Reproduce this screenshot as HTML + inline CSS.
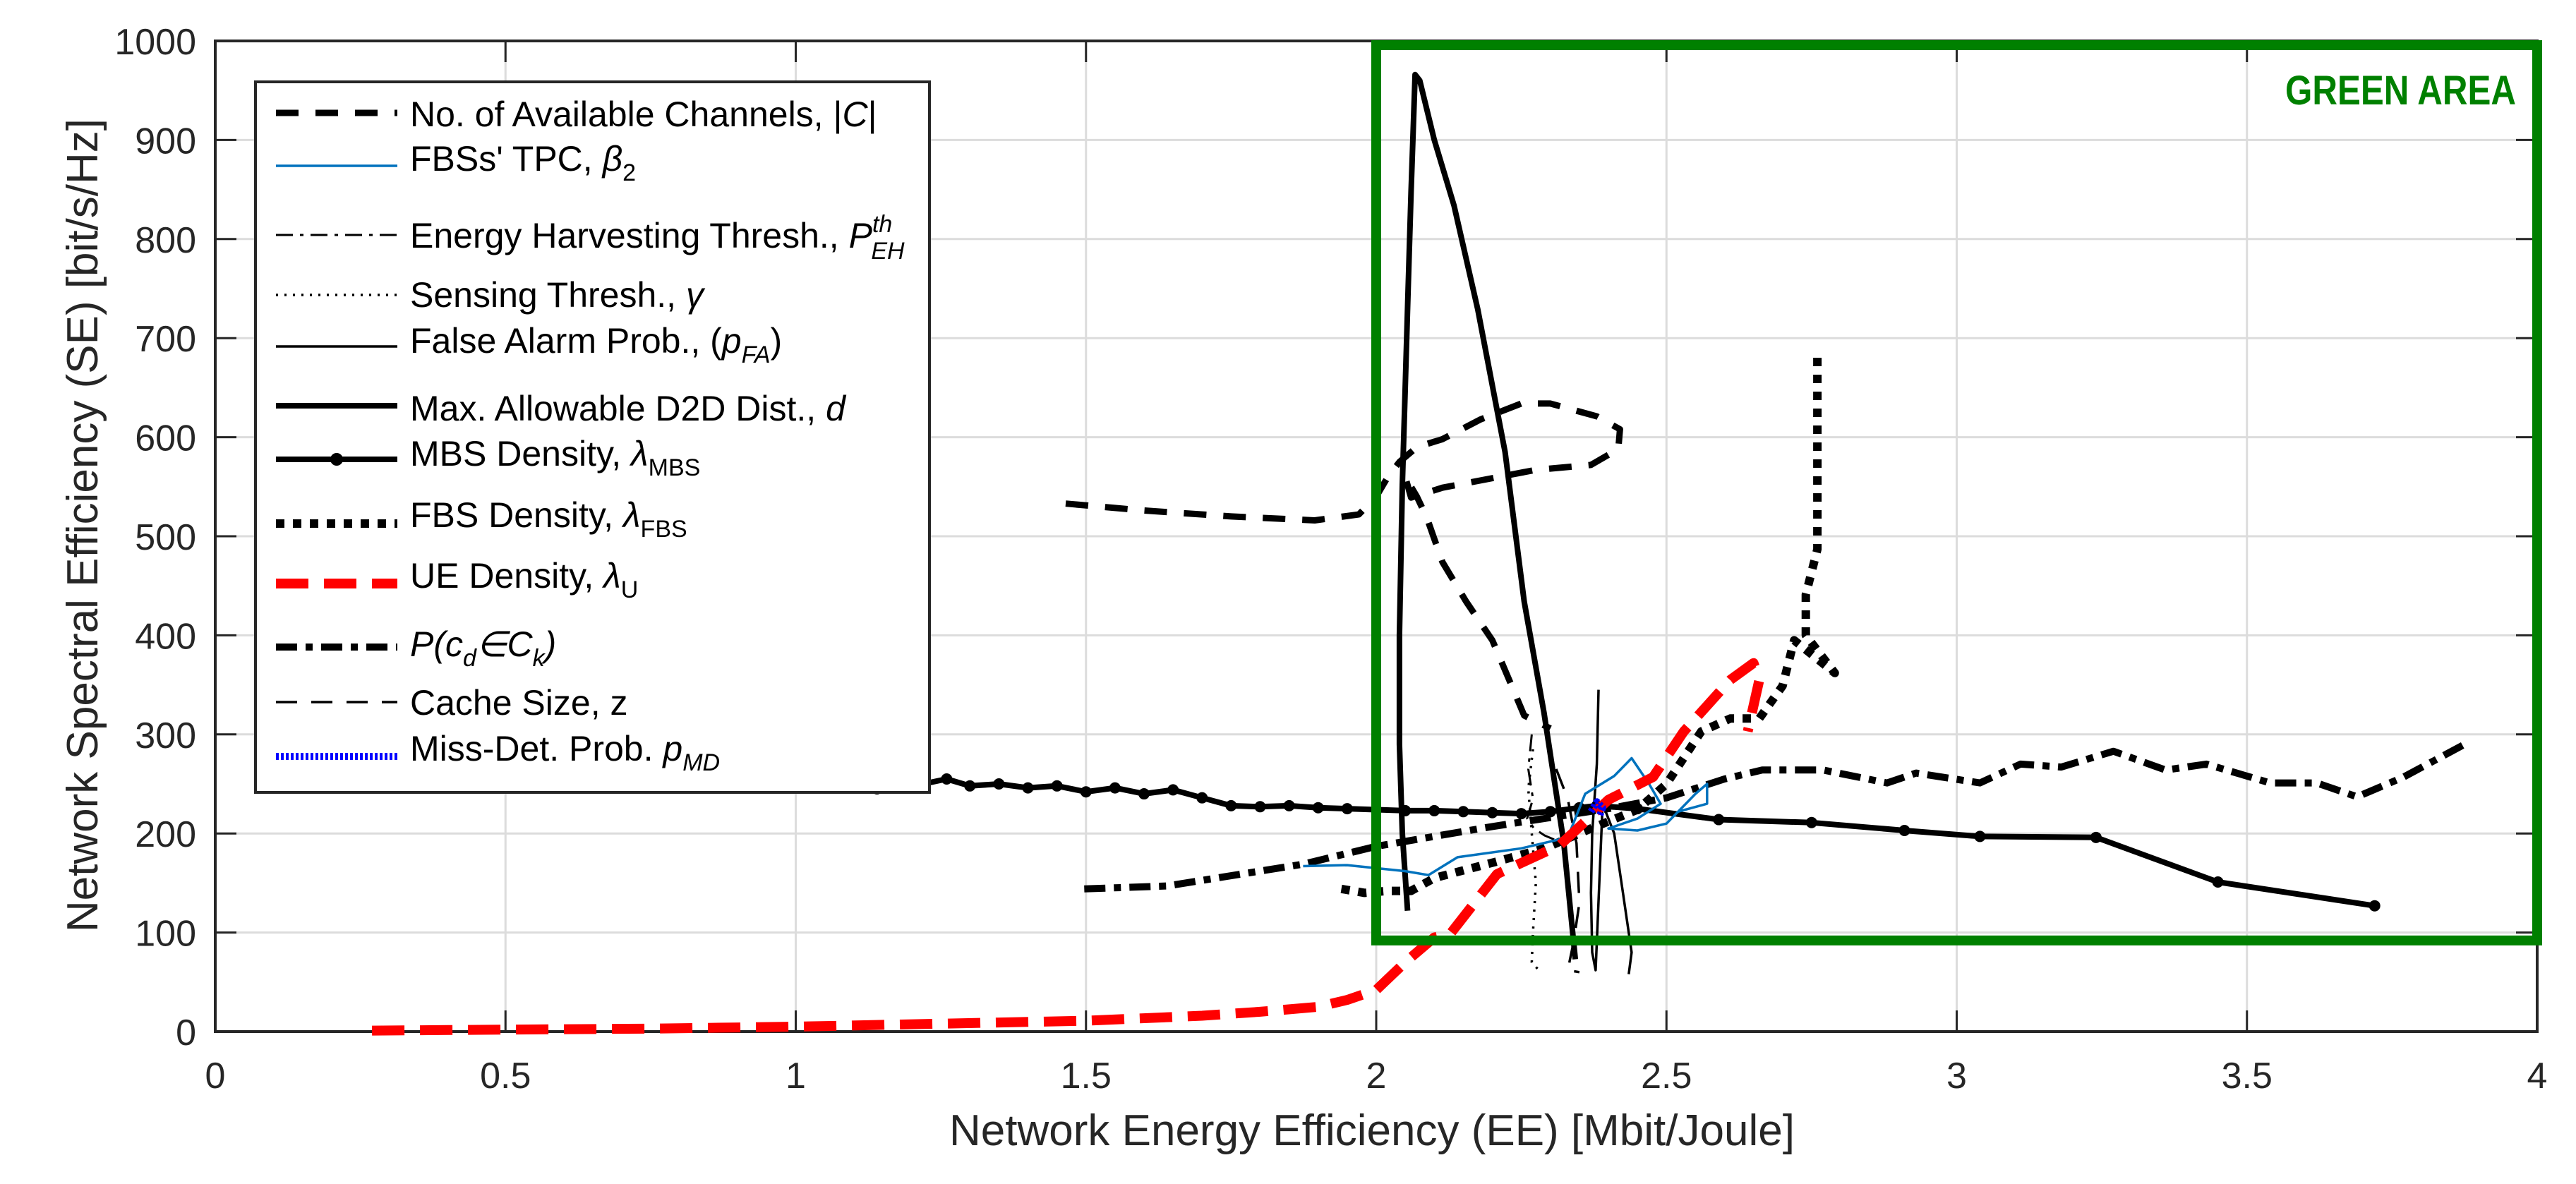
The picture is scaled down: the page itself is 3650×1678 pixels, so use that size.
<!DOCTYPE html>
<html><head><meta charset="utf-8"><style>
html,body{margin:0;padding:0;background:#fff;}
svg{display:block;font-family:"Liberation Sans",sans-serif;}
</style></head><body>
<svg id="chart" width="3650" height="1678" viewBox="0 0 3650 1678" xmlns="http://www.w3.org/2000/svg">
<rect x="0" y="0" width="3650" height="1678" fill="#fff"/>
<g id="grid"></g>
<g id="axes"></g>
<g id="series"></g>
<g id="green"></g>
<text x="138" y="168" font-size="62" fill="#262626" text-anchor="end" transform="rotate(-90 138 168)">Network Spectral Efficiency (SE) [bit/s/Hz]</text>
<text x="1345" y="1623" font-size="62" fill="#262626">Network Energy Efficiency (EE) [Mbit/Joule]</text>
<g id="legend">
<rect x="362" y="116" width="955" height="1007" fill="#fff" stroke="#262626" stroke-width="4"/>
<g id="legend-lines"></g>
<g font-size="50" fill="#000">
<text x="581" y="179">No. of Available Channels, |<tspan font-style="italic">C</tspan>|</text>
<text x="581" y="242">FBSs' TPC, <tspan font-style="italic">β</tspan><tspan font-size="34" dy="14">2</tspan></text>
<text x="581" y="351">Energy Harvesting Thresh., <tspan font-style="italic">P</tspan><tspan font-size="34" font-style="italic" dy="-22">th</tspan><tspan font-size="34" font-style="italic" dx="-30" dy="38">EH</tspan></text>
<text x="581" y="435">Sensing Thresh., <tspan font-style="italic">γ</tspan></text>
<text x="581" y="500">False Alarm Prob., (<tspan font-style="italic">p</tspan><tspan font-size="34" font-style="italic" dy="14">FA</tspan><tspan dy="-14">)</tspan></text>
<text x="581" y="596">Max. Allowable D2D Dist., <tspan font-style="italic">d</tspan></text>
<text x="581" y="660">MBS Density, <tspan font-style="italic">λ</tspan><tspan font-size="34" dy="14">MBS</tspan></text>
<text x="581" y="747">FBS Density, <tspan font-style="italic">λ</tspan><tspan font-size="34" dy="14">FBS</tspan></text>
<text x="581" y="833">UE Density, <tspan font-style="italic">λ</tspan><tspan font-size="34" dy="14">U</tspan></text>
<text x="581" y="930" font-style="italic">P(c<tspan font-size="34" dy="14">d</tspan><tspan dy="-14">∈C</tspan><tspan font-size="34" dy="14">k</tspan><tspan dy="-14">)</tspan></text>
<text x="581" y="1013">Cache Size, z</text>
<text x="581" y="1078">Miss-Det. Prob. <tspan font-style="italic">p</tspan><tspan font-size="34" font-style="italic" dy="14">MD</tspan></text>
</g>
</g>
<text x="3565" y="148" font-size="58" font-weight="bold" fill="#008000" text-anchor="end" textLength="327" lengthAdjust="spacingAndGlyphs">GREEN AREA</text>
</svg>
<script>
// Axis tick data
const xTicks = [0, 0.5, 1, 1.5, 2, 2.5, 3, 3.5, 4];
const xTickLabels = ["0", "0.5", "1", "1.5", "2", "2.5", "3", "3.5", "4"];
const yTicks = [0, 100, 200, 300, 400, 500, 600, 700, 800, 900, 1000];
const yTickLabels = ["0", "100", "200", "300", "400", "500", "600", "700", "800", "900", "1000"];

// Series data (EE, SE)
const chanX = [1.465,1.6,1.75,1.894,1.97,2.0,2.02,2.04,2.07,2.114,2.18,2.25,2.3,2.38,2.42,2.417,2.37,2.275,2.114,2.06,2.05,2.07,2.087,2.114,2.155,2.2,2.229,2.255,2.3];
const chanY = [533,526,520,516,522,540,560,575,590,598,618,634,634,621,608,588,572,567,549,539,560,540,519,474,434,395,355,319,306];
const tpcX = [1.874,1.95,2.05,2.09,2.14,2.25,2.33,2.36,2.41,2.44,2.47,2.49,2.45,2.4,2.45,2.5,2.55,2.57,2.57,2.52];
const tpcY = [167,168,162,158,176,185,196,240,258,276,250,230,215,205,203,210,240,250,230,222];
const ehX = [2.268,2.262,2.27,2.26,2.272,2.29,2.31,2.33];
const ehY = [300,265,235,215,205,198,193,190];
const senseX = [2.27,2.262,2.268,2.275,2.27,2.268,2.28];
const senseY = [285,245,200,150,100,70,62];
const faX = [2.383,2.38,2.372,2.37,2.372,2.378,2.39,2.41,2.425,2.44,2.435];
const faY = [345,270,200,140,80,62,230,200,140,80,58];
const d2dX = [2.054,2.045,2.04,2.04,2.045,2.05,2.055,2.06,2.067,2.075,2.1,2.134,2.175,2.222,2.255,2.289,2.323,2.343];
const d2dY = [122,200,290,400,552,650,749,848,966,960,900,834,729,585,434,322,191,73];
const mbsX = [1.14,1.18,1.22,1.26,1.3,1.35,1.4,1.45,1.5,1.55,1.6,1.65,1.7,1.75,1.8,1.85,1.9,1.95,2.0,2.05,2.1,2.15,2.2,2.25,2.3,2.35,2.38,2.45,2.59,2.75,2.91,3.04,3.24,3.45,3.72];
const mbsY = [245,258,250,255,248,250,246,248,242,246,240,244,236,228,227,228,226,225,224,223,223,222,221,220,222,226,228,225,214,211,203,197,196,151,127];
const fbsX = [1.94,1.98,2.02,2.06,2.1,2.21,2.29,2.37,2.45,2.5,2.56,2.61,2.66,2.7,2.72,2.79,2.74,2.74,2.76,2.76];
const fbsY = [144,140,142,142,155,172,185,205,224,250,303,316,316,349,395,362,400,441,487,683];
const ueX = [0.27,0.5,0.75,1.0,1.25,1.5,1.7,1.8,1.9,1.95,2.0,2.05,2.1,2.128,2.208,2.316,2.4,2.477,2.53,2.61,2.65,2.66,2.64];
const ueY = [1,2,3,5,8,11,16,20,25,32,42,70,95,99,159,188,234,257,303,355,372,355,303];
const pcdX = [1.497,1.64,1.874,2.0,2.1,2.2,2.3,2.4,2.5,2.6,2.665,2.77,2.88,2.93,3.04,3.11,3.18,3.27,3.36,3.43,3.54,3.62,3.69,3.77,3.875];
const pcdY = [144,147,169,187,197,207,216,225,236,255,264,264,251,261,251,270,267,283,264,270,251,251,237,257,290];
const cacheX = [2.31,2.33,2.345,2.35,2.34,2.33,2.35];
const cacheY = [265,235,190,130,90,62,60];
const mdX = [2.37,2.38,2.39,2.385];
const mdY = [222,232,226,218];
const greenX = [2, 4];
const greenY = [92, 1000];

const NS = "http://www.w3.org/2000/svg";
const X0 = 305, XS = 822.5, Y0 = 1462, YS = 1.404;
function sx(v){ return X0 + v * XS; }
function sy(v){ return Y0 - v * YS; }
function mk(tag, attrs, parent){
  const e = document.createElementNS(NS, tag);
  for (const k in attrs) e.setAttribute(k, attrs[k]);
  parent.appendChild(e);
  return e;
}
const gridG = document.getElementById('grid');
const axesG = document.getElementById('axes');
const seriesG = document.getElementById('series');
const plotLeft = sx(0), plotRight = sx(4), plotTop = sy(1000), plotBottom = sy(0);

xTicks.forEach((t, i) => {
  const g = mk('line', {x1: sx(t), x2: sx(t), y1: plotTop, y2: plotBottom, stroke: '#dcdcdc', 'stroke-width': 3}, gridG);
  
  
  mk('line', {x1: sx(t), x2: sx(t), y1: plotBottom, y2: plotBottom - 30, stroke: '#262626', 'stroke-width': 3}, axesG);
  mk('line', {x1: sx(t), x2: sx(t), y1: plotTop, y2: plotTop + 30, stroke: '#262626', 'stroke-width': 3}, axesG);
  const l = mk('text', {x: sx(t), y: 1542, 'font-size': 52, fill: '#262626', 'text-anchor': 'middle'}, axesG);
  l.textContent = xTickLabels[i];
  
  
});
yTicks.forEach((t, i) => {
  const g = mk('line', {x1: plotLeft, x2: plotRight, y1: sy(t), y2: sy(t), stroke: '#dcdcdc', 'stroke-width': 3}, gridG);
  
  
  mk('line', {x1: plotLeft, x2: plotLeft + 30, y1: sy(t), y2: sy(t), stroke: '#262626', 'stroke-width': 3}, axesG);
  mk('line', {x1: plotRight, x2: plotRight - 30, y1: sy(t), y2: sy(t), stroke: '#262626', 'stroke-width': 3}, axesG);
  const l = mk('text', {x: 278, y: sy(t) + 19, 'font-size': 52, fill: '#262626', 'text-anchor': 'end'}, axesG);
  l.textContent = yTickLabels[i];
  
  
});
const box = mk('rect', {x: plotLeft, y: plotTop, width: plotRight - plotLeft, height: plotBottom - plotTop, fill: 'none', stroke: '#262626', 'stroke-width': 4}, axesG);



function drawPath(xs, ys, style, name){
  let d = '';
  xs.forEach((x, i) => { d += (i ? 'L' : 'M') + sx(x).toFixed(1) + ' ' + sy(ys[i]).toFixed(1); });
  const p = mk('path', Object.assign({d: d, fill: 'none', 'stroke-linejoin': 'round'}, style), seriesG);
  
  
  return p;
}
const styles = {
  chan: {stroke: '#000', 'stroke-width': 9, 'stroke-dasharray': '32 24'},
  tpc: {stroke: '#0072BD', 'stroke-width': 3.5},
  eh: {stroke: '#000', 'stroke-width': 3, 'stroke-dasharray': '24 10 5 10'},
  sense: {stroke: '#000', 'stroke-width': 3.5, 'stroke-dasharray': '3 9'},
  fa: {stroke: '#000', 'stroke-width': 3.5},
  d2d: {stroke: '#000', 'stroke-width': 8},
  mbs: {stroke: '#000', 'stroke-width': 8},
  fbs: {stroke: '#000', 'stroke-width': 12, 'stroke-dasharray': '12 12'},
  ue: {stroke: '#ff0000', 'stroke-width': 14, 'stroke-dasharray': '46 22'},
  pcd: {stroke: '#000', 'stroke-width': 10, 'stroke-dasharray': '30 12 10 12'},
  cache: {stroke: '#000', 'stroke-width': 3.5, 'stroke-dasharray': '30 20'},
  md: {stroke: '#0000ff', 'stroke-width': 10, 'stroke-dasharray': '4 3'}
};
drawPath(pcdX, pcdY, styles.pcd, 'series-p-cd-in-ck');
drawPath(chanX, chanY, styles.chan, 'series-available-channels');
drawPath(mbsX, mbsY, styles.mbs, 'series-mbs-density');
mbsX.forEach((x, i) => {
  const c = mk('circle', {cx: sx(x), cy: sy(mbsY[i]), r: 8, fill: '#000'}, seriesG);
  
  
});
drawPath(d2dX, d2dY, styles.d2d, 'series-max-d2d-distance');
drawPath(ehX, ehY, styles.eh, 'series-energy-harvesting');
drawPath(senseX, senseY, styles.sense, 'series-sensing-threshold');
drawPath(cacheX, cacheY, styles.cache, 'series-cache-size');
drawPath(faX, faY, styles.fa, 'series-false-alarm');
drawPath(fbsX, fbsY, styles.fbs, 'series-fbs-density');
drawPath(tpcX, tpcY, styles.tpc, 'series-fbs-tpc');
drawPath(ueX, ueY, styles.ue, 'series-ue-density');
drawPath(mdX, mdY, styles.md, 'series-miss-detection');

const greenG = document.getElementById('green');
const gr = mk('rect', {x: sx(greenX[0]), y: sy(greenY[1]) + 6, width: sx(greenX[1]) - sx(greenX[0]), height: sy(greenY[0]) - sy(greenY[1]) - 6, fill: 'none', stroke: '#008000', 'stroke-width': 14}, greenG);



// legend samples
const legendRows = [160, 235, 333, 418, 491, 575, 651, 742, 827, 917, 995, 1072];
const legendKeys = ['chan','tpc','eh','sense','fa','d2d','mbs','fbs','ue','pcd','cache','md'];
const ll = document.getElementById('legend-lines');
legendKeys.forEach((k, i) => {
  const l = mk('line', Object.assign({x1: 391, x2: 563, y1: legendRows[i], y2: legendRows[i]}, styles[k]), ll);
  
  
  if (k === 'mbs') {
    const c = mk('circle', {cx: 477, cy: legendRows[i], r: 9, fill: '#000'}, ll);
    
    
  }
});
</script>
</body></html>
